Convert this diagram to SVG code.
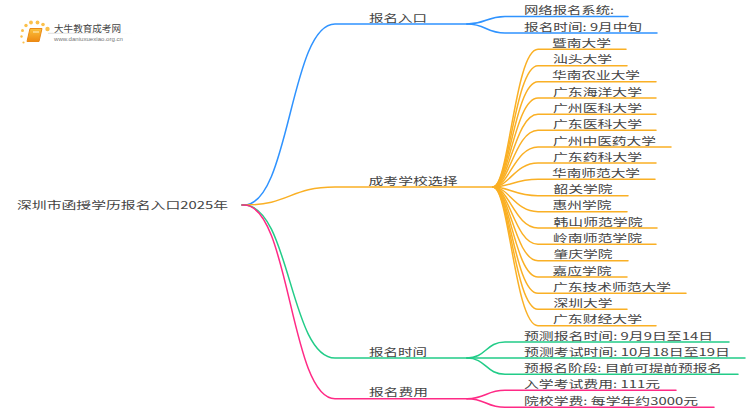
<svg xmlns="http://www.w3.org/2000/svg" width="750" height="410" viewBox="0 0 750 410">
<style>
text{font-family:"Noto Sans CJK SC","Liberation Sans",sans-serif;font-size:10.5px;fill:#444}
#connectors path{fill:none;stroke-width:1.5;stroke-linecap:round}
.b path{stroke:#2f93ff}.o path{stroke:#fab025}.g path{stroke:#22cc88}.p path{stroke:#ff2a86}
.dot{fill:#fbc04a}
</style>
<defs>
<linearGradient id="book" x1="0" y1="0" x2="0" y2="1"><stop offset="0" stop-color="#fbc13c"/><stop offset="1" stop-color="#ee8a12"/></linearGradient>
<linearGradient id="rule" x1="0" y1="0" x2="1" y2="0"><stop offset="0" stop-color="#ddd"/><stop offset="1" stop-color="#fff"/></linearGradient>
</defs>
<rect width="750" height="410" fill="#fff"/>
<g id="logo">
<circle class="dot" cx="47.5" cy="29" r="2.2"/><circle class="dot" cx="43" cy="24.5" r="1.8"/><circle class="dot" cx="37.5" cy="22.5" r="1.9"/><circle class="dot" cx="31" cy="22.5" r="1.9"/><circle class="dot" cx="26" cy="25.5" r="1.7"/><circle class="dot" cx="22.5" cy="30.5" r="1.5"/><circle class="dot" cx="21.5" cy="36.5" r="1.2"/><circle class="dot" cx="23.5" cy="42.5" r="1.1"/>
<path d="M30,28.5H42L39,41.5H27Z" fill="url(#book)" stroke="#ea8a16" stroke-width="1"/>
<path d="M33,32H39" stroke="#fff3c8" stroke-width="1"/>
<rect x="48" y="32.8" width="85" height="1" fill="url(#rule)"/>
<text x="54" y="31.5" style="font-size:9.5px" textLength="67" lengthAdjust="spacingAndGlyphs">大牛教育成考网</text>
<text x="54" y="41" style="font-size:5.6px;font-family:'Liberation Sans',sans-serif;fill:#777" textLength="69" lengthAdjust="spacingAndGlyphs">www.daniuxuexiao.org.cn</text>
</g>
<g id="connectors">
<g class="b">
<path d="M242,205H244C290,205 290,24 335,24H467"/>
<path d="M467,24C486,24 486,16.5 505,16.5H628"/>
<path d="M467,24C486,24 486,33 505,33H657"/>
</g>
<g class="o">
<path d="M242,205H244C290,205 290,187 335,187H493"/>
<path d="M493,187C509,187 515,49.3 538,49.3H626"/>
<path d="M493,187C509,187 515,65.7 538,65.7H627"/>
<path d="M493,187C509,187 515,81.7 538,81.7H656"/>
<path d="M493,187C509,187 515,98 538,98H656"/>
<path d="M493,187C509,187 515,114.3 538,114.3H656"/>
<path d="M493,187C509,187 515,130.3 538,130.3H656"/>
<path d="M493,187C509,187 515,147 538,147H671"/>
<path d="M493,187C509,187 515,163 538,163H656"/>
<path d="M493,187C509,187 515,179.3 538,179.3H655"/>
<path d="M493,187C509,187 515,195.7 538,195.7H628"/>
<path d="M493,187C509,187 515,211.7 538,211.7H627"/>
<path d="M493,187C509,187 515,228 538,228H657"/>
<path d="M493,187C509,187 515,244.3 538,244.3H656"/>
<path d="M493,187C509,187 515,260.7 538,260.7H628"/>
<path d="M493,187C509,187 515,277 538,277H627"/>
<path d="M493,187C509,187 515,293.3 538,293.3H686"/>
<path d="M493,187C509,187 515,309.3 538,309.3H627"/>
<path d="M493,187C509,187 515,325.7 538,325.7H656"/>
</g>
<g class="g">
<path d="M242,205H244C290,205 290,358 335,358H467"/>
<path d="M467,358C486,358 486,342 505,342H729"/>
<path d="M467,358H745"/>
<path d="M467,358C486,358 486,374.3 505,374.3H738"/>
</g>
<g class="p">
<path d="M242,205H244C290,205 290,398.7 335,398.7H467"/>
<path d="M467,398.7C486,398.7 486,390.3 505,390.3H676"/>
<path d="M467,398.7C486,398.7 486,407.3 505,407.3H714"/>
</g>
</g>
<g id="root"><text x="17" y="209" textLength="211" lengthAdjust="spacingAndGlyphs">深圳市函授学历报名入口2025年</text></g>
<g id="n-entry"><text x="369" y="22" textLength="58" lengthAdjust="spacingAndGlyphs">报名入口</text></g>
<g id="n-system"><text x="524" y="14" textLength="90" lengthAdjust="spacingAndGlyphs">网络报名系统:</text></g>
<g id="n-time1"><text x="524" y="30.5" textLength="118" lengthAdjust="spacingAndGlyphs">报名时间: 9月中旬</text></g>
<g id="n-school"><text x="368.5" y="185" textLength="89" lengthAdjust="spacingAndGlyphs">成考学校选择</text></g>
<g id="s1"><text x="552" y="46.5" textLength="59" lengthAdjust="spacingAndGlyphs">暨南大学</text></g>
<g id="s2"><text x="553" y="63" textLength="59" lengthAdjust="spacingAndGlyphs">汕头大学</text></g>
<g id="s3"><text x="552" y="79" textLength="88" lengthAdjust="spacingAndGlyphs">华南农业大学</text></g>
<g id="s4"><text x="553" y="95.5" textLength="89" lengthAdjust="spacingAndGlyphs">广东海洋大学</text></g>
<g id="s5"><text x="553" y="111.5" textLength="89" lengthAdjust="spacingAndGlyphs">广州医科大学</text></g>
<g id="s6"><text x="553" y="127.5" textLength="89" lengthAdjust="spacingAndGlyphs">广东医科大学</text></g>
<g id="s7"><text x="553" y="144.5" textLength="103" lengthAdjust="spacingAndGlyphs">广州中医药大学</text></g>
<g id="s8"><text x="553" y="160.5" textLength="89" lengthAdjust="spacingAndGlyphs">广东药科大学</text></g>
<g id="s9"><text x="552" y="176.5" textLength="88" lengthAdjust="spacingAndGlyphs">华南师范大学</text></g>
<g id="s10"><text x="553.5" y="193" textLength="59" lengthAdjust="spacingAndGlyphs">韶关学院</text></g>
<g id="s11"><text x="552.5" y="209" textLength="59" lengthAdjust="spacingAndGlyphs">惠州学院</text></g>
<g id="s12"><text x="553.5" y="225.5" textLength="89" lengthAdjust="spacingAndGlyphs">韩山师范学院</text></g>
<g id="s13"><text x="553" y="241.5" textLength="89" lengthAdjust="spacingAndGlyphs">岭南师范学院</text></g>
<g id="s14"><text x="553.5" y="258" textLength="59" lengthAdjust="spacingAndGlyphs">肇庆学院</text></g>
<g id="s15"><text x="552.5" y="274.5" textLength="59" lengthAdjust="spacingAndGlyphs">嘉应学院</text></g>
<g id="s16"><text x="553" y="290.5" textLength="118" lengthAdjust="spacingAndGlyphs">广东技术师范大学</text></g>
<g id="s17"><text x="553.5" y="306.5" textLength="59" lengthAdjust="spacingAndGlyphs">深圳大学</text></g>
<g id="s18"><text x="553" y="323" textLength="89" lengthAdjust="spacingAndGlyphs">广东财经大学</text></g>
<g id="n-time"><text x="369" y="355.5" textLength="58" lengthAdjust="spacingAndGlyphs">报名时间</text></g>
<g id="t1"><text x="524" y="339.5" textLength="189" lengthAdjust="spacingAndGlyphs">预测报名时间: 9月9日至14日</text></g>
<g id="t2"><text x="524" y="355.5" textLength="206" lengthAdjust="spacingAndGlyphs">预测考试时间: 10月18日至19日</text></g>
<g id="t3"><text x="524" y="371.5" textLength="198" lengthAdjust="spacingAndGlyphs">预报名阶段: 目前可提前预报名</text></g>
<g id="n-fee"><text x="369" y="396" textLength="59" lengthAdjust="spacingAndGlyphs">报名费用</text></g>
<g id="f1"><text x="524" y="387.5" textLength="136" lengthAdjust="spacingAndGlyphs">入学考试费用: 111元</text></g>
<g id="f2"><text x="524" y="404.5" textLength="174" lengthAdjust="spacingAndGlyphs">院校学费: 每学年约3000元</text></g>
</svg>
